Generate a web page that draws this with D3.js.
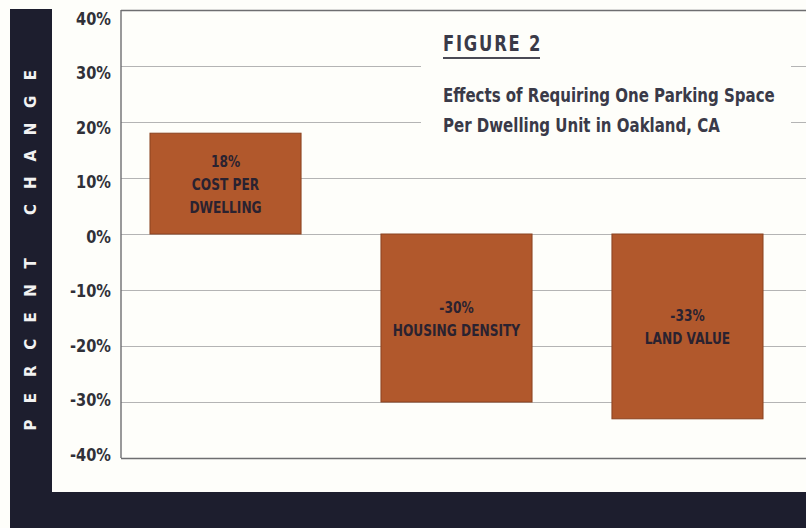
<!DOCTYPE html>
<html>
<head>
<meta charset="utf-8">
<script src="https://cdn.jsdelivr.net/npm/d3@7"></script>
<style>
  html, body { margin: 0; padding: 0; background: #fefefa; }
  svg { display: block; }
  .cond { font-family: "DejaVu Sans", "Liberation Sans", sans-serif; font-weight: bold; }
</style>
</head>
<body>
<svg id="chart" width="806" height="528"></svg>
<script>
// Percent change caused by a one-space-per-unit parking requirement
const categories = ["Cost per dwelling", "Housing density", "Land value"];
const values = [18, -30, -33];
const barLabels = [["COST PER", "DWELLING"], ["HOUSING DENSITY"], ["LAND VALUE"]];
const yTicks = [40, 30, 20, 10, 0, -10, -20, -30, -40];

const titleText = "FIGURE 2";
const subtitleLines = ["Effects of Requiring One Parking Space", "Per Dwelling Unit in Oakland, CA"];
const axisTitle = "PERCENT CHANGE";

const W = 806, H = 528;
const plot = { left: 121, right: 806, top: 10, bottom: 458 };

const svg = d3.select("#chart");

// condensed look: squeeze a bold face horizontally
function squeezed(parent, x, y, str, size, sx, anchor) {
  return parent.append("text")
    .attr("class", "cond")
    .attr("transform", `translate(${x},${y}) scale(${sx},1)`)
    .attr("text-anchor", anchor || "start")
    .style("font-size", size + "px")
    .text(str);
}

// page background
svg.append("rect").attr("width", W).attr("height", H).attr("fill", "#fefefa");

// dark frame: left strip and bottom band
const frame = "#1d1e2e";
svg.append("rect").attr("x", 10).attr("y", 9).attr("width", 42).attr("height", H - 9).attr("fill", frame);
svg.append("rect").attr("x", 10).attr("y", 492).attr("width", W - 10).attr("height", H - 492).attr("fill", frame);

const y = d3.scaleLinear().domain([40, -40]).range([plot.top, plot.bottom]);
// tick labels sit slightly lower than their gridlines near the top
const yLabel = d3.scaleLinear().domain([40, -40]).range([19, 455]);

const x = d3.scaleBand()
  .domain(categories)
  .range([plot.left, 792])
  .paddingInner(0.346)
  .paddingOuter(0.1255);

// gridlines
const grid = svg.append("g")
  .attr("transform", `translate(${plot.left},0)`)
  .call(d3.axisRight(y).tickValues(yTicks).tickSize(plot.right - plot.left).tickFormat(""));
grid.select(".domain").remove();
grid.selectAll(".tick line")
  .attr("stroke", d => (d === 40 || d === -40) ? "#6e6e70" : "#b4b4b4")
  .attr("stroke-width", d => (d === 40 || d === -40) ? 1.6 : 1);

// left axis line
svg.append("line")
  .attr("x1", plot.left).attr("x2", plot.left)
  .attr("y1", y(40)).attr("y2", y(-40))
  .attr("stroke", "#6e6e70").attr("stroke-width", 1.4);

// tick labels, squeezed into a condensed bold look
const labels = svg.append("g")
  .attr("transform", `translate(${plot.left},0)`)
  .call(d3.axisLeft(yLabel).tickValues(yTicks).tickSize(0).tickPadding(10).tickFormat(d => d + "%"));
labels.select(".domain").remove();
labels.selectAll(".tick text")
  .attr("class", "cond")
  .attr("x", 0)
  .attr("transform", "translate(-10,0) scale(0.86,1)")
  .attr("fill", "#303038")
  .style("font-size", "17px");

// white title panel over the gridlines
svg.append("rect")
  .attr("x", 421).attr("y", 18).attr("width", 370).attr("height", 146)
  .attr("fill", "#fefefa");

squeezed(svg, 443, 51, titleText, 21, 0.78)
  .attr("fill", "#3a3a48")
  .style("letter-spacing", "2.3px");
svg.append("line")
  .attr("x1", 443).attr("x2", 540).attr("y1", 58).attr("y2", 58)
  .attr("stroke", "#4a4a55").attr("stroke-width", 2);

subtitleLines.forEach((line, i) => {
  squeezed(svg, 443, 102 + i * 30, line, 19, 0.79).attr("fill", "#3a3a48");
});

// bars
const barFill = "#b1582c";
svg.append("g").selectAll("rect")
  .data(values)
  .join("rect")
  .attr("x", (d, i) => x(categories[i]))
  .attr("width", x.bandwidth())
  .attr("y", d => y(Math.max(0, d)))
  .attr("height", d => Math.abs(y(d) - y(0)))
  .attr("fill", barFill)
  .attr("stroke", "#8a4220")
  .attr("stroke-width", 1);

// labels inside bars, centred on each bar
const lineH = 23;
const barText = svg.append("g");
values.forEach((v, i) => {
  const lines = [v + "%"].concat(barLabels[i]);
  const cx = x(categories[i]) + x.bandwidth() / 2;
  const cy = (y(v) + y(0)) / 2;
  const first = cy - (lines.length - 1) * lineH / 2;
  lines.forEach((ln, j) => {
    squeezed(barText, cx, first + j * lineH + 6, ln, 16.5, 0.74, "middle").attr("fill", "#2a2230");
  });
});

// vertical axis title in the dark strip, one spaced letter at a time
const letters = axisTitle.split("");
const ly = d3.scalePoint().domain(d3.range(letters.length)).range([425, 75]);
svg.append("g").selectAll("text")
  .data(letters)
  .join("text")
  .attr("transform", (d, i) => `translate(31,${ly(i)}) rotate(-90)`)
  .attr("text-anchor", "middle")
  .attr("dy", "0.36em")
  .attr("fill", "#f2f2f2")
  .style("font-family", "'DejaVu Sans', sans-serif")
  .style("font-weight", "bold")
  .style("font-size", "15px")
  .text(d => d);
</script>
</body>
</html>
